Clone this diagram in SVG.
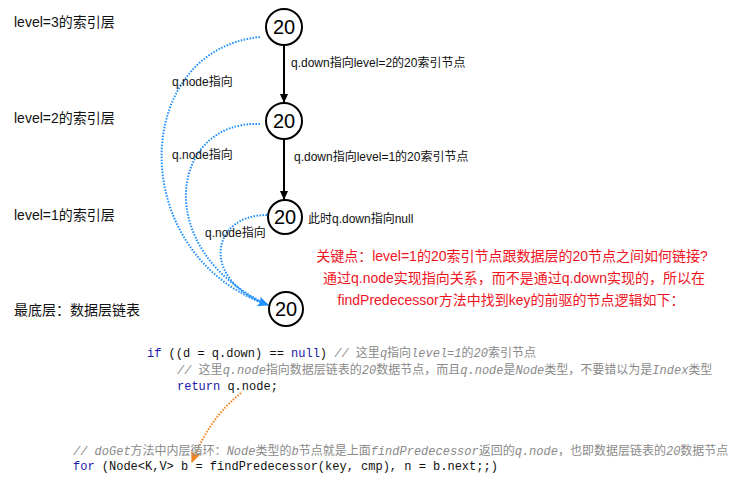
<svg xmlns="http://www.w3.org/2000/svg" width="755" height="487" viewBox="0 0 755 487">
<defs>
<style>
.lbl{font-family:"Liberation Sans","Noto Sans CJK SC",sans-serif;font-size:14px;fill:#111}
.sm{font-family:"Liberation Sans","Noto Sans CJK SC",sans-serif;font-size:12px;fill:#111}
.red{font-family:"Liberation Sans","Noto Sans CJK SC",sans-serif;font-size:14px;fill:#f0141e;text-anchor:middle}
.num{font-family:"Liberation Sans","Noto Sans CJK SC",sans-serif;font-size:20px;fill:#000;text-anchor:middle}
.node{fill:#fff;stroke:#000;stroke-width:2}
.code{font-family:"Liberation Mono","Noto Sans CJK SC",monospace;font-size:12px;fill:#111}
.kw{fill:#1a1aa6}
.cm{fill:#8a8a8a;font-style:italic}
.up{font-style:normal;font-family:"Noto Sans CJK SC",sans-serif}
.down{stroke:#000;stroke-width:2;fill:none}
.blue{stroke:#1e8fff;stroke-width:2;fill:none;stroke-dasharray:1.5 1.5}
.orange{stroke:#f5841f;stroke-width:2;fill:none;stroke-dasharray:1.5 1.5}
</style>
<marker id="ab" markerWidth="10" markerHeight="10" refX="8" refY="5" orient="auto" markerUnits="userSpaceOnUse"><path d="M0,1 L9,5 L0,9 Z" fill="#000"/></marker>
<marker id="abl" markerWidth="12" markerHeight="12" refX="10" refY="6" orient="auto" markerUnits="userSpaceOnUse"><path d="M0,1 L11,6 L0,11 L2,6 Z" fill="#1e8fff"/></marker>
<marker id="aor" markerWidth="12" markerHeight="12" refX="10" refY="6" orient="auto" markerUnits="userSpaceOnUse"><path d="M0,1 L11,6 L0,11 L2,6 Z" fill="#f5841f"/></marker>
</defs>
<rect width="755" height="487" fill="#fff"/>

<g id="labels">
<text class="lbl" x="14" y="27">level=3的索引层</text>
<text class="lbl" x="14" y="123">level=2的索引层</text>
<text class="lbl" x="14" y="220">level=1的索引层</text>
<text class="lbl" x="14" y="315">最底层：数据层链表</text>
</g>

<g id="connectors">
<line class="down" x1="284" y1="45" x2="284" y2="102" marker-end="url(#ab)"/>
<line class="down" x1="284" y1="139" x2="284" y2="199" marker-end="url(#ab)"/>
<path class="blue" d="M260,37 C130,50 125,255 268,305"/>
<path class="blue" d="M260,124 C170,120 150,250 268,305"/>
<path class="blue" d="M267,215 C210,215 200,280 268,305" marker-end="url(#abl)"/>
<path class="orange" d="M241,393 C220,410 205,430 192,462" marker-end="url(#aor)"/>
<text class="sm" x="291" y="67">q.down指向level=2的20索引节点</text>
<text class="sm" x="294" y="161">q.down指向level=1的20索引节点</text>
<text class="sm" x="172" y="86">q.node指向</text>
<text class="sm" x="172" y="159">q.node指向</text>
<text class="sm" x="205" y="237">q.node指向</text>
</g>

<g id="n1"><circle class="node" cx="284" cy="27" r="18"/><text class="num" x="284" y="34">20</text></g>
<g id="n2"><circle class="node" cx="284" cy="121" r="18"/><text class="num" x="284" y="128">20</text></g>
<g id="n3"><circle class="node" cx="285" cy="217" r="17"/><text class="num" x="285" y="224">20</text><text class="sm" x="308" y="223">此时q.down指向null</text></g>
<g id="n4"><circle class="node" cx="286" cy="309" r="17"/><text class="num" x="286" y="316">20</text></g>

<g id="note">
<text class="red" x="512" y="261">关键点：level=1的20索引节点跟数据层的20节点之间如何链接?</text>
<text class="red" x="514" y="283">通过q.node实现指向关系，而不是通过q.down实现的，所以在</text>
<text class="red" x="511" y="305">findPredecessor方法中找到key的前驱的节点逻辑如下：</text>
</g>

<g id="code">
<text class="code" x="147" y="357"><tspan class="kw">if</tspan> ((d = q.down) == <tspan class="kw">null</tspan>) <tspan class="cm">// <tspan class="up">这里</tspan>q<tspan class="up">指向</tspan>level=1<tspan class="up">的</tspan>20<tspan class="up">索引节点</tspan></tspan></text>
<text class="code cm" x="177" y="374">// <tspan class="up">这里</tspan>q.node<tspan class="up">指向数据层链表的</tspan>20<tspan class="up">数据节点，而且</tspan>q.node<tspan class="up">是</tspan>Node<tspan class="up">类型，不要错以为是</tspan>Index<tspan class="up">类型</tspan></text>
<text class="code" x="177" y="390"><tspan class="kw">return</tspan> q.node;</text>
<text class="code cm" x="73" y="455">// doGet<tspan class="up">方法中内层循环：</tspan>Node<tspan class="up">类型的</tspan>b<tspan class="up">节点就是上面</tspan>findPredecessor<tspan class="up">返回的</tspan>q.node<tspan class="up">，也即数据层链表的</tspan>20<tspan class="up">数据节点</tspan></text>
<text class="code" x="73" y="470"><tspan class="kw">for</tspan> (Node&lt;K,V&gt; b = findPredecessor(key, cmp), n = b.next;;)</text>
</g>
</svg>
